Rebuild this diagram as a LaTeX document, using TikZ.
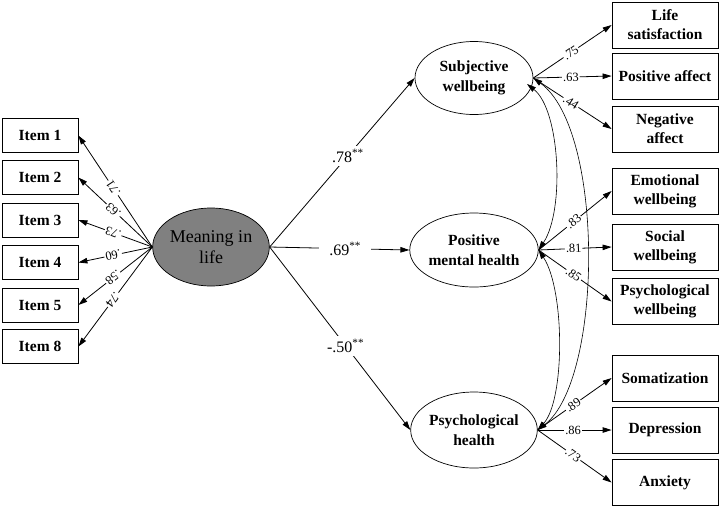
\documentclass[tikz,border=0pt]{standalone}
\usepackage{fontspec}
\setmainfont{Liberation Serif}
\usetikzlibrary{shapes.geometric,arrows.meta}
\begin{document}
\begin{tikzpicture}[x=1pt,y=-1pt,
  obs/.style={draw, line width=0.8pt, rectangle, minimum width=76pt, minimum height=34pt,
    inner sep=0pt, font=\fontsize{15.5}{19}\selectfont\bfseries, align=center},
  obsr/.style={obs, minimum width=106pt, minimum height=46pt},
  lat/.style={draw, line width=0.7pt, ellipse, minimum width=118pt, minimum height=74pt,
    inner sep=0pt, font=\fontsize{15.5}{20}\selectfont\bfseries, align=center},
  arr/.style={line width=0.8pt, -{Triangle[length=9pt,width=5.5pt]}},
  cov/.style={line width=0.6pt, {Triangle[length=9pt,width=5.5pt]}-{Triangle[length=9pt,width=5.5pt]}},
  coef/.style={fill=white, inner xsep=1pt, inner ysep=0.5pt, font=\fontsize{12.5}{14}\selectfont},
  path/.style={fill=white, inner xsep=10pt, inner ysep=3pt, font=\fontsize{16}{18}\selectfont}
]
\useasboundingbox (0,0) rectangle (720,507);

% latent variables
\node[lat, fill={rgb,255:red,128;green,128;blue,128}, minimum width=116pt, minimum height=78pt,
  font=\fontsize{18}{21}\selectfont] (ML) at (211,247) {Meaning in\\life};
\node[lat, minimum height=73pt] (SW) at (474,78) {Subjective\\wellbeing};
\node[lat] (PMH) at (474,250) {Positive\\mental health};
\node[lat, minimum height=76pt] (PH) at (474,430) {Psychological\\health};

% items
\node[obs] (I1) at (40,135.5) {Item 1};
\node[obs] (I2) at (40,177.5) {Item 2};
\node[obs] (I3) at (40,220) {Item 3};
\node[obs] (I4) at (40,262.5) {Item 4};
\node[obs] (I5) at (40,305) {Item 5};
\node[obs] (I8) at (40,346.5) {Item 8};

% right indicators
\node[obsr] (LS) at (665,25) {Life\\satisfaction};
\node[obsr] (PA) at (665,76) {Positive affect};
\node[obsr] (NA) at (665,129) {Negative\\affect};
\node[obsr] (EW) at (665,191) {Emotional\\wellbeing};
\node[obsr] (SoW) at (665,247) {Social\\wellbeing};
\node[obsr] (PW) at (665,301.5) {Psychological\\wellbeing};
\node[obsr] (SO) at (665,378) {Somatization};
\node[obsr] (DE) at (665,430) {Depression};
\node[obsr] (AN) at (665,482.5) {Anxiety};

% item loadings
\foreach \it/\v in {I1/.71, I2/.63, I3/.73, I4/.60, I5/.58, I8/.74}
  \draw[arr] (ML.west) -- node[coef, pos=0.53, sloped, allow upside down] {\v} (\it.east);

% structural paths
\draw[arr] (ML.east) -- node[path, pos=0.54] {.78\textsuperscript{**}} (SW.west);
\draw[arr] (ML.east) -- node[path, pos=0.54] {.69\textsuperscript{**}} (PMH.west);
\draw[arr] (ML.east) -- node[path, pos=0.54] {-.50\textsuperscript{**}} (PH.west);

% right loadings
\draw[arr] (SW.east) -- node[coef, pos=0.48, sloped] {.75} (LS.west);
\draw[arr] (SW.east) -- node[coef, pos=0.48, sloped] {.63} (PA.west);
\draw[arr] (SW.east) -- node[coef, pos=0.48, sloped] {.44} (NA.west);
\draw[arr] (PMH.east) -- node[coef, pos=0.48, sloped] {.83} (EW.west);
\draw[arr] (PMH.east) -- node[coef, pos=0.48, sloped] {.81} (SoW.west);
\draw[arr] (PMH.east) -- node[coef, pos=0.48, sloped] {.85} (PW.west);
\draw[arr] (PH.east) -- node[coef, pos=0.48, sloped] {.89} (SO.west);
\draw[arr] (PH.east) -- node[coef, pos=0.48, sloped] {.86} (DE.west);
\draw[arr] (PH.east) -- node[coef, pos=0.48, sloped] {.73} (AN.west);

% covariances
\coordinate (c1) at (527,84);
\draw[cov] (c1) .. controls (560,110) and (565,210) .. (PMH.east);
\draw[cov] (PMH.east) .. controls (565,290) and (565,400) .. (PH.east);
\draw[cov] (SW.east) .. controls (605,130) and (603,380) .. (PH.east);
\end{tikzpicture}
\end{document}
